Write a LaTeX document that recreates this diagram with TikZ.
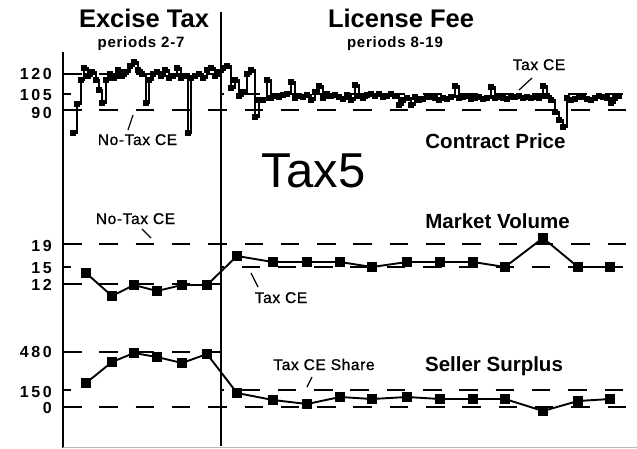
\documentclass[tikz,border=0pt]{standalone}
\usepackage{fontspec}
\setmainfont{Liberation Sans}
\usetikzlibrary{plotmarks}
\tikzset{
  axisline/.style={line width=2pt, line cap=butt},
  divline/.style={line width=1.6pt},
  cedash/.style={line width=2.4pt, dash pattern=on 18.5pt off 17.8pt},
  series/.style={line width=1.9pt, mark=square*, mark size=3.9pt, mark options={solid}},
  pricestep/.style={line width=2.1pt, const plot, mark=square*, mark size=2.1pt, mark options={solid}},
  pointer/.style={line width=1.2pt},
  ticklab/.style={anchor=base east, inner sep=0pt, font=\bfseries\fontsize{16}{17}\selectfont\addfontfeature{LetterSpace=16}},
  head/.style={anchor=base, inner sep=0pt, font=\bfseries\fontsize{25.5}{28}\selectfont},
  subhead/.style={anchor=base, inner sep=0pt, font=\bfseries\fontsize{15}{17}\selectfont\addfontfeature{LetterSpace=5}},
  panel/.style={anchor=base, inner sep=0pt, font=\bfseries\fontsize{20.5}{23}\selectfont},
  celab/.style={anchor=base, inner sep=0pt, font=\fontsize{15.5}{17}\selectfont\addfontfeature{LetterSpace=4,FakeBold=1}},
}
\begin{document}
\begin{tikzpicture}[x=1pt,y=-1pt]
\useasboundingbox (0,0) rectangle (637,448);
% axes
\coordinate (axtop) at (63,52);
\coordinate (axbot) at (63,448);
\coordinate (divtop) at (221,12);
\coordinate (divbot) at (221,446);
\draw[axisline] (axtop) -- (axbot);
\draw[divline] (divtop) -- (divbot);
\draw[gray!55, line width=0.8pt] (63,447.3) -- (637,447.3);
% headings
\node[head] (hex) at (144,27.5) {Excise Tax};
\node[subhead] (pex) at (141,47) {periods 2-7};
\node[head] (hlf) at (401,27.5) {License Fee};
\node[subhead] (plf) at (395,47) {periods 8-19};
\node[anchor=base, inner sep=0pt, font=\fontsize{49}{55}\selectfont] (title) at (313.5,187) {Tax5};
% tick labels
\node[ticklab] (t120) at (52,79.5) {120};
\node[ticklab] (t105) at (52,100) {105};
\node[ticklab] (t90) at (52,118) {90};
\node[ticklab] (t19) at (52,251.5) {19};
\node[ticklab] (t15) at (52,273) {15};
\node[ticklab] (t12) at (52,290.5) {12};
\node[ticklab] (t480) at (52,357.5) {480};
\node[ticklab] (t150) at (52,397) {150};
\node[ticklab] (t0) at (52,413.5) {0};
% small ticks
\draw[line width=1.6pt] (63,94) -- (71,94);
\draw[line width=1.6pt] (63,267) -- (71,267);
\draw[line width=1.6pt] (63,390) -- (71,390);
% --- price panel CE lines
\draw[cedash] (63,74) -- (221,74);
\draw[cedash] (63,110) -- (627,110);
\draw[cedash, dash phase=15.8pt] (221,94) -- (627,94);
% --- volume panel CE lines
\draw[cedash] (63,244) -- (627,244);
\draw[cedash] (63,284) -- (221,284);
\draw[cedash, dash phase=15.8pt] (221,267) -- (627,267);
% --- surplus panel CE lines
\draw[cedash] (63,352) -- (221,352);
\draw[cedash] (63,407) -- (627,407);
\draw[cedash, dash phase=15.8pt] (221,390) -- (627,390);
% price series
\draw[pricestep] plot coordinates {
(73,133) (77,104) (81,80) (84,68) (88,76) (92,72) (96,80) (99,90) (102,103) (106,80)
(110,74) (114,78) (118,70) (122,76) (126,72) (130,66) (134,62) (138,70) (142,74) (146,103)
(149,80) (153,74) (157,72) (161,76) (165,70) (169,78) (173,76) (177,68) (181,78) (185,76)
(188,133) (191,78) (195,76) (199,74) (203,78) (207,70) (211,68) (215,76) (219,72)
(223,68) (227,66) (231,88) (235,80) (239,96) (243,92) (247,74) (251,70) (255,117) (259,100)
(263,100) (267,80) (271,98) (275,96) (279,97) (283,95) (287,94) (291,82) (295,98) (299,96)
(303,97) (307,95) (311,100) (315,92) (319,86) (323,98) (327,94) (331,96) (335,95) (339,97)
(343,99) (347,95) (351,100) (355,85) (359,96) (363,98) (367,95) (371,94) (375,96) (379,94)
(383,97) (387,96) (391,94) (395,96) (399,105) (403,100) (407,98) (411,105) (415,97) (419,100)
(423,99) (427,96) (431,97) (435,98) (439,100) (443,98) (447,99) (451,97) (455,86) (459,98)
(463,97) (467,96) (471,99) (475,98) (479,97) (483,99) (487,98) (491,87) (495,98) (499,97)
(503,98) (507,99) (511,96) (515,97) (519,96) (523,98) (527,97) (531,98) (535,97) (539,98)
(543,86) (547,96) (551,100) (555,112) (559,120) (563,127) (567,98) (571,100) (575,99) (579,96)
(583,97) (587,99) (591,100) (595,98) (599,96) (603,97) (607,98) (611,103) (615,98) (619,96)
};
% volume series
\draw[series] plot coordinates {
(86,273) (112,296) (134,285) (157,291) (182,285) (207,285)
(237,256) (273,262) (307,262) (340,262) (372,267) (407,262) (440,262) (473,262) (505,267) (543,238) (578,267) (610,267)
};
% surplus series
\draw[series] plot coordinates {
(86,383) (112,362) (134,353) (157,357) (182,363) (207,354)
(237,393) (273,400) (307,404) (340,397) (372,399) (407,397) (440,399) (473,399) (505,399) (543,411) (578,401) (610,399)
};
% panel labels
\node[panel] (lprice) at (495.5,148) {Contract Price};
\node[panel] (lvol) at (497.5,228) {Market Volume};
\node[panel] (lsur) at (494,371) {Seller Surplus};
% CE labels and pointers
\node[celab] (ntce1) at (137.5,145) {No-Tax CE};
\coordinate (p1a) at (133,115); \coordinate (p1b) at (128,130);
\draw[pointer] (p1a) -- (p1b);
\node[celab] (tce1) at (539,70) {Tax CE};
\coordinate (p2a) at (532,78); \coordinate (p2b) at (519,90);
\draw[pointer] (p2a) -- (p2b);
\node[celab] (ntce2) at (135.5,224) {No-Tax CE};
\coordinate (p3a) at (142,229); \coordinate (p3b) at (151,238);
\draw[pointer] (p3a) -- (p3b);
\node[celab] (tce2) at (281,303) {Tax CE};
\coordinate (p4a) at (251,273); \coordinate (p4b) at (258,287);
\draw[pointer] (p4a) -- (p4b);
\node[celab] (tces) at (324,370) {Tax CE Share};
\coordinate (p5a) at (312,377); \coordinate (p5b) at (307,387);
\draw[pointer] (p5a) -- (p5b);
\end{tikzpicture}
\end{document}
